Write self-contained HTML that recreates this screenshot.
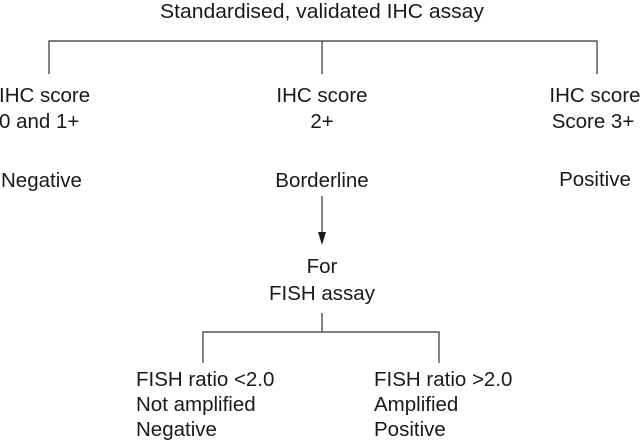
<!DOCTYPE html>
<html><head><style>html,body{margin:0;padding:0;background:#fff}</style></head>
<body>
<svg width="640" height="442" viewBox="0 0 640 442" xmlns="http://www.w3.org/2000/svg" style="display:block">
<g font-family="Liberation Sans, sans-serif" font-size="20.5" fill="#1a1a1a">
<text x="322" y="18" text-anchor="middle" textLength="324" lengthAdjust="spacingAndGlyphs">Standardised, validated IHC assay</text>
<text x="-1" y="102">IHC score</text>
<text x="-1" y="128">0 and 1+</text>
<text x="1" y="187">Negative</text>
<text x="322" y="102" text-anchor="middle">IHC score</text>
<text x="322" y="128" text-anchor="middle">2+</text>
<text x="322" y="187" text-anchor="middle">Borderline</text>
<text x="595" y="102" text-anchor="middle">IHC score</text>
<text x="593" y="128" text-anchor="middle">Score 3+</text>
<text x="595" y="186" text-anchor="middle">Positive</text>
<text x="322" y="273" text-anchor="middle">For</text>
<text x="322" y="300" text-anchor="middle">FISH assay</text>
<text x="136" y="386">FISH ratio &lt;2.0</text>
<text x="136" y="411">Not amplified</text>
<text x="136" y="436">Negative</text>
<text x="374" y="386">FISH ratio &gt;2.0</text>
<text x="374" y="411">Amplified</text>
<text x="374" y="436">Positive</text>
</g>
<g stroke="#333" stroke-width="1.2" fill="none">
<path d="M49 74V41H597V74M322 41V74"/>
<path d="M322 196V236"/>
<path d="M322 313V332M203 363V332H439V363"/>
</g>
<path d="M318 232L322 245L326 232Z" fill="#1a1a1a"/>
</svg>
</body></html>
